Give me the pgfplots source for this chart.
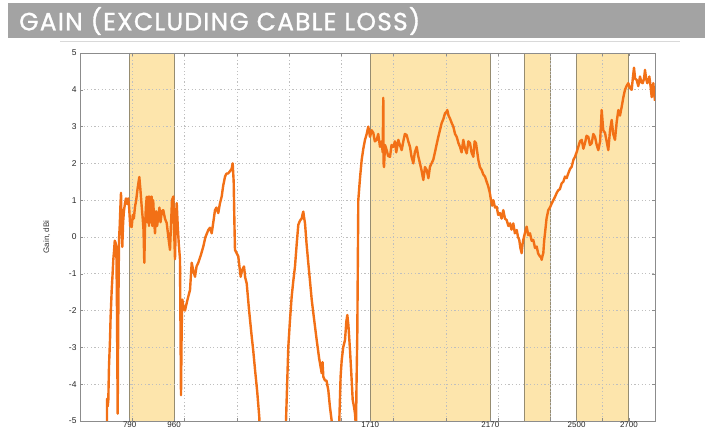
\documentclass[border=0pt]{standalone}
\usepackage{fontspec}
\setmainfont{Liberation Sans}
\newfontfamily\titlefont{Poppins}[LetterSpace=5, FakeBold=1.2]
\usepackage{pgfplots}
\pgfplotsset{compat=1.18}
\definecolor{bannergray}{RGB}{163,163,163}
\definecolor{bandfill}{RGB}{253,229,172}
\definecolor{bandedge}{RGB}{150,140,112}
\definecolor{curve}{RGB}{242,112,22}
\definecolor{axgray}{RGB}{140,140,140}
\begin{document}
\begin{tikzpicture}
\fill[bannergray] (8bp,392bp) rectangle (705bp,427bp);
\node[anchor=west, text=white, inner sep=0pt] at (19bp,409bp) {\titlefont\fontsize{25}{25}\selectfont GAIN (EXCLUDING CABLE LOSS)};
\draw[gray!30, line width=0.6bp] (60bp,389bp) -- (680bp,389bp);
\begin{axis}[
  at={(80bp,9bp)}, anchor=south west,
  width=575bp, height=368bp, scale only axis,
  set layers,
  xmin=600, xmax=2800, ymin=-5, ymax=5,
  xtick={800,1000,...,2600}, xticklabels={},
  extra x ticks={790,960,1710,2170,2500,2700},
  extra x tick labels={790,960,1710,2170,2500,2700},
  extra x tick style={grid=none, xticklabel style={yshift=3bp, font=\fontsize{8}{8}\selectfont}},
  ytick={-5,-4,...,5},
  grid=major,
  major grid style={gray!50, dash pattern=on 1.2bp off 2.4bp, line width=0.6bp},
  axis line style={axgray, line width=0.6bp},
  tick style={axgray, line width=0.5bp},
  tick align=inside, major tick length=3bp,
  ticklabel style={font=\fontsize{8.5}{9}\selectfont, text=black!85},
  /pgf/number format/assume math mode=true,
  ylabel={Gain, dBi},
  ylabel style={font=\fontsize{8}{9}\selectfont, text=black!80, yshift=12bp},
  clip=true,
]
\addplot[on layer=axis background, fill=bandfill, draw=bandedge, line width=0.8bp] coordinates {(790,-5) (790,5) (960,5) (960,-5)} -- cycle;
\addplot[on layer=axis background, fill=bandfill, draw=bandedge, line width=0.8bp] coordinates {(1710,-5) (1710,5) (2170,5) (2170,-5)} -- cycle;
\addplot[on layer=axis background, fill=bandfill, draw=bandedge, line width=0.8bp] coordinates {(2300,-5) (2300,5) (2400,5) (2400,-5)} -- cycle;
\addplot[on layer=axis background, fill=bandfill, draw=bandedge, line width=0.8bp] coordinates {(2500,-5) (2500,5) (2700,5) (2700,-5)} -- cycle;
\addplot[curve, line width=2.4bp, line join=round] coordinates {
(703,-6) (703.3,-4.4) (706,-4.6) (708.3,-4.43) (711,-3.5) (714.8,-2.8) (717,-2.2) (721.3,-1.44) (724,-1.1) (727.4,-0.62) (730,-0.4) (733,-0.1) (736.6,-0.17) (739,-0.3) (741,-1.5) (744.2,-4.8) (746,-2.5) (749.2,-0.08) (752,0.3) (755,0.9) (756.9,1.2) (759,0.4) (761.8,-0.27) (765,0.4) (768,0.7) (772.2,0.92) (776,1.05) (780,0.9) (784.8,1.05) (788,0.8) (792,0.3) (797.8,0.27) (802,0.6) (806,0.5) (810.4,0.82) (815,1.0) (820,1.3) (826.9,1.63) (831,1.3) (836.1,0.82) (840,0.5) (843,0.2) (846,-0.7) (849,0.3) (852,0.8) (855.2,1.09) (858,0.4) (861,1.1) (864,0.3) (867,1.1) (870,0.4) (874.3,1.1) (877,0.3) (880,1.0) (884,0.4) (887,0.1) (891,0.7) (895,0.3) (899.6,0.55) (904,0.8) (908,0.4) (913,0.7) (918.7,0.73) (925,0.5) (931.7,0.38) (938,0.0) (944.3,-0.35) (948,0.3) (952,1.0) (957,1.1) (960,0.2) (963.5,-0.6) (967,0.5) (970,0.92) (974,0.3) (978,-0.2) (982.6,-0.6) (986.4,-4.3) (989,-2.5) (991.4,-1.7) (996,-1.9) (1001.7,-2.0) (1008,-1.8) (1015,-1.6) (1020.9,-1.44) (1027.4,-0.7) (1033,-0.9) (1040,-1.08) (1046,-0.8) (1052.6,-0.7) (1062,-0.5) (1071.7,-0.26) (1080,0.0) (1090.9,0.19) (1097,0.25) (1103.9,0.1) (1110,0.4) (1116.5,0.73) (1122,0.8) (1129.1,0.65) (1135,0.9) (1142.1,1.1) (1148,1.4) (1154.8,1.64) (1160,1.72) (1167.4,1.73) (1175,1.8) (1180,1.85) (1184.2,2.0) (1188,1.5) (1191,0.3) (1193,-0.35) (1200,-0.45) (1205.7,-0.53) (1210,-0.8) (1214.8,-1.08) (1220,-0.9) (1227.5,-0.8) (1232,-1.1) (1237.8,-1.26) (1247,-2.0) (1256.9,-2.7) (1263,-3.1) (1269.6,-3.6) (1278,-4.2) (1286,-4.9) (1292,-6)
(1385,-6) (1388.2,-5) (1396.9,-3.0) (1403,-2.3) (1409.9,-1.62) (1416,-1.2) (1422.6,-0.8) (1429,-0.2) (1435.2,0.33) (1442,0.45) (1448.2,0.5) (1451,0.6) (1454.3,0.69) (1457,0.55) (1460.9,0.37) (1467,-0.2) (1473.5,-0.71) (1480,-1.2) (1486.5,-1.7) (1495,-2.2) (1505.6,-2.8) (1515,-3.3) (1524.7,-3.7) (1528,-3.4) (1531,-3.8) (1537.4,-3.9) (1543,-3.9) (1550,-4.16) (1556,-4.6) (1563,-5) (1568,-6)
(1588,-6) (1592.1,-5) (1597,-3.8) (1601.3,-3.35) (1607,-3.0) (1613.9,-2.8) (1619,-2.3) (1622.7,-2.12) (1627,-2.4) (1633,-3.07) (1638,-3.7) (1643.4,-4.43) (1648,-4.6) (1652.2,-4.8) (1656,-5.2) (1658,-4.0) (1661,-2.6) (1664.8,1.0) (1671.3,1.6) (1677.8,2.1) (1684,2.4) (1690.4,2.64) (1697,2.8) (1703,3.0) (1709.5,2.72) (1716,2.9) (1722.2,2.83) (1728,2.6) (1735.2,2.64) (1741,2.8) (1747.8,2.45) (1754,2.6) (1758,2.3) (1760.4,3.78) (1761.5,2.0) (1763.2,1.9) (1767,2.5) (1773.4,2.36) (1779,2.2) (1786.1,2.18) (1792,2.5) (1798.7,2.45) (1805,2.6) (1810,2.3) (1817.8,2.64) (1824,2.5) (1830.8,2.36) (1837,2.6) (1843,2.8) (1850,2.77) (1856,2.6) (1862.6,2.45) (1868,2.2) (1875.2,2.0) (1881,2.3) (1888.2,2.45) (1894,2.2) (1900.8,2.0) (1907,1.8) (1913.5,1.55) (1920,1.9) (1926.5,1.82) (1933,1.6) (1939.1,1.91) (1945,2.0) (1951.7,2.1) (1958,2.3) (1964,2.5) (1970.9,2.72) (1977,2.9) (1983.9,3.1) (1990,3.2) (1996.5,3.36) (2002,3.4) (2005.3,3.45) (2010,3.3) (2015.6,3.22) (2022,3.1) (2028.3,3.0) (2035,2.8) (2041.3,2.72) (2048,2.55) (2053.9,2.45) (2060,2.3) (2066.5,2.64) (2073,2.4) (2079.5,2.27) (2086,2.6) (2092.1,2.55) (2098,2.3) (2104.8,2.18) (2110,2.6) (2115.1,2.55) (2120,2.3) (2123.9,2.1) (2130,1.9) (2136.9,1.82) (2143,1.7) (2149.5,1.64) (2156,1.5) (2162.2,1.37) (2168,1.2) (2172.5,1.0) (2177,0.85) (2181.3,1.0) (2188,0.8) (2194.3,0.82) (2200,0.6) (2206.9,0.65) (2213,0.5) (2219.5,0.73) (2226,0.5) (2232.5,0.46) (2239,0.3) (2245.2,0.37) (2251,0.2) (2257.8,0.37) (2264,0.1) (2270.8,0.19) (2276,0.0) (2280.7,-0.08) (2285,-0.3) (2289.9,-0.44) (2293,-0.2) (2296,-0.08) (2302,0.1) (2309,0.28) (2315,0.05) (2321.7,0.1) (2328,-0.1) (2334.3,-0.08) (2341,-0.3) (2347.3,-0.26) (2353,-0.45) (2359.9,-0.53) (2364,-0.55) (2366.4,-0.62) (2370,-0.5) (2372.6,-0.44) (2376,-0.1) (2379.1,0.1) (2385,0.5) (2391.7,0.73) (2398,0.8) (2404.7,0.91) (2411,1.0) (2417.4,1.09) (2424,1.2) (2430,1.27) (2436,1.3) (2443,1.46) (2449,1.5) (2455.6,1.64) (2462,1.6) (2468.3,1.73) (2475,1.85) (2481.3,1.91) (2488,2.1) (2493.9,2.18) (2500,2.3) (2506.5,2.45) (2513,2.6) (2519.5,2.64) (2526,2.4) (2532.1,2.55) (2538,2.75) (2544.8,2.72) (2551,2.5) (2557.8,2.55) (2564,2.8) (2570.4,2.72) (2577,2.5) (2583,2.36) (2590,2.6) (2596,3.45) (2602,2.9) (2608.7,2.83) (2615,2.6) (2621.3,2.36) (2628,2.9) (2634.3,3.18) (2640,2.8) (2646.9,2.64) (2653,3.1) (2659.6,3.45) (2666,3.3) (2672.6,3.54) (2679,3.8) (2685.2,4.0) (2691,4.1) (2697.8,4.18) (2704,4.05) (2710.8,4.0) (2715,4.3) (2719.6,4.6) (2724,4.3) (2729.9,4.27) (2736,4.1) (2742.6,4.36) (2748,4.2) (2752.9,4.18) (2758,4.3) (2761.7,4.54) (2766,4.3) (2770.5,4.18) (2775,4.25) (2778.2,4.36) (2783,4.1) (2787.4,3.8) (2791,4.0) (2793.5,4.18) (2797,3.9) (2800,3.7)
};
\end{axis}
\pgfresetboundingbox
\useasboundingbox (0,0) rectangle (713bp,430bp);
\end{tikzpicture}
\end{document}
